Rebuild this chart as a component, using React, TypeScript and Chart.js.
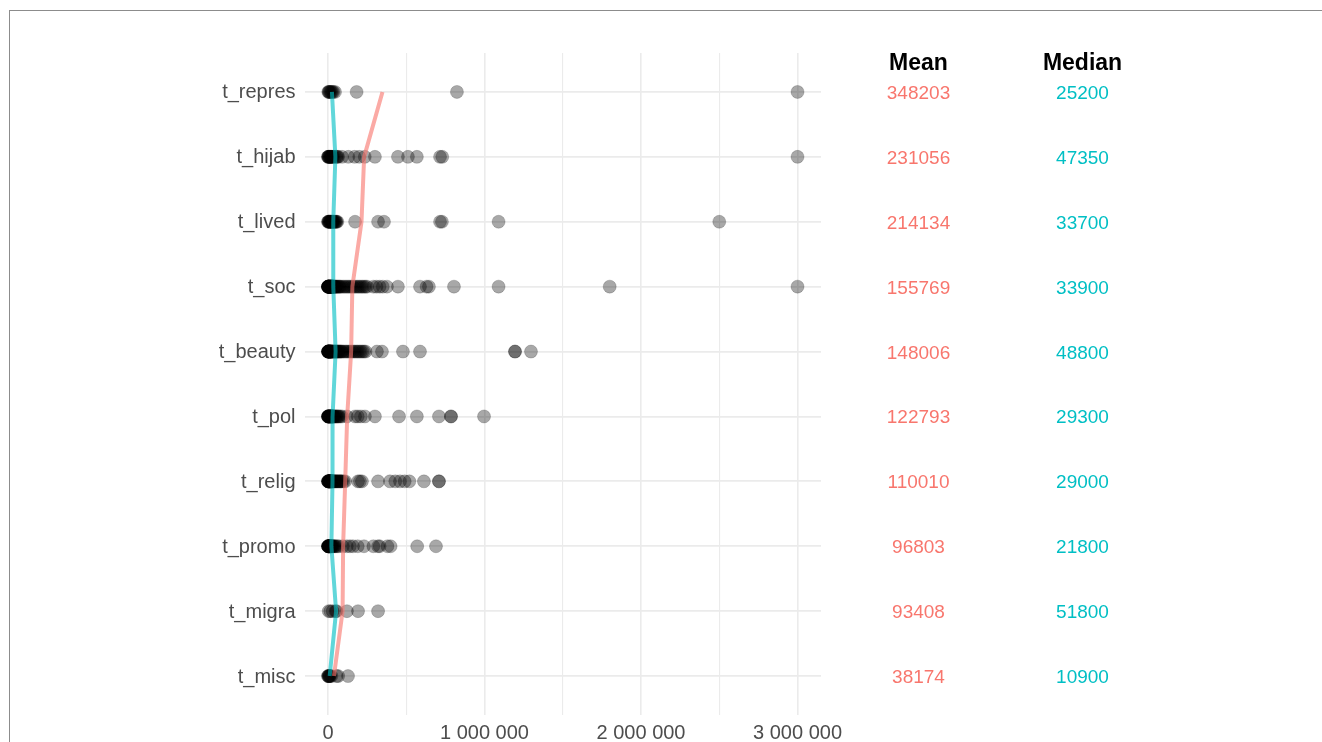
import React, { useEffect, useRef } from "react";
import { Chart, registerables } from "chart.js";

Chart.register(...registerables);

// ---- data ----
const categories = [
  "t_repres", "t_hijab", "t_lived", "t_soc", "t_beauty",
  "t_pol", "t_relig", "t_promo", "t_migra", "t_misc",
];
const tableHeaders = ["Mean", "Median"];
const meanLabels = ["348203", "231056", "214134", "155769", "148006", "122793", "110010", "96803", "93408", "38174"];
const medianLabels = ["25200", "47350", "33700", "33900", "48800", "29300", "29000", "21800", "51800", "10900"];
const meanValues = [348203, 231056, 214134, 155769, 148006, 122793, 110010, 96803, 93408, 38174];
const medianValues = [25200, 47350, 33700, 33900, 48800, 29300, 29000, 21800, 51800, 10900];
const xTickValues = [0, 500000, 1000000, 1500000, 2000000, 2500000, 3000000];

const reprePoints = [2000, 5000, 8000, 12000, 18000, 22000, 28400, 35000, 45000, 183000, 824000, 3000000];
const hijabPoints = [
  0, 1000, 3000, 5000, 8000, 10000, 12000, 15000, 18000, 20000,
  22000, 25000, 28000, 32000, 38000, 47350, 55000, 60000, 65000, 90000,
  130000, 170000, 200000, 235000, 300000, 447000, 511000,
  568000, 716000, 730000, 3000000,
];
const livedPoints = [
  0, 2000, 4000, 6000, 9000, 10000, 12000, 15000, 18000, 20000,
  21000, 25000, 28000, 30000, 31000, 33700, 36000, 40000, 44000, 48000,
  52000, 55000, 60000, 173000, 320000, 358000, 716000, 728000, 1090000, 2500000,
];
const socPoints = [
  0, 1000, 2000, 3000, 5000, 6000, 8000, 10000, 11000, 12000,
  14000, 15000, 17000, 18000, 20000, 22000, 23000, 25000, 27000, 28000,
  30000, 31000, 32000, 33000, 33900, 35000, 37000, 40000, 42000, 45000,
  48000, 50000, 55000, 60000, 65000, 70000, 75000, 80000, 90000, 100000,
  110000, 120000, 130000, 140000, 150000, 160000, 170000, 180000, 190000, 200000,
  210000, 220000, 230000, 240000, 250000, 290000, 310000, 330000, 350000, 377000,
  447000, 588000, 630000, 645000, 805000, 1090000, 1800000, 3000000,
  500, 1500, 2500, 4000, 7000, 9000, 13000, 16000, 19000, 21000,
  24000, 26000, 29000, 500, 1000, 3500, 6500, 12500, 17500, 22500,
];
const beautyPoints = [
  0, 2000, 4000, 6000, 8000, 10000, 13000, 16000, 19000, 22000,
  25000, 28000, 31000, 34000, 37000, 40000, 43000, 46000, 48800, 51000,
  54000, 58000, 62000, 66000, 70000, 75000, 80000, 85000, 90000, 100000,
  110000, 120000, 130000, 140000, 150000, 160000, 170000, 180000, 190000, 200000,
  210000, 220000, 230000, 240000,
  1000, 3000, 5000, 7000, 9000, 12000, 15000, 18000, 21000, 24000,
  500, 1500, 2500, 3500, 11000, 14000,
  313000, 345000, 479000, 588000, 1195000, 1195000, 1297000,
];
const polPoints = [
  0, 500, 1000, 1500, 2000, 3000, 4000, 5000, 6000, 7000,
  8000, 9000, 10000, 12000, 14000, 16000, 18000, 20000, 21000, 22000,
  23000, 24000, 25000, 26000, 27000, 28000, 29300, 31000, 33000, 35000,
  38000, 41000, 45000, 50000, 55000, 60000, 65000, 70000, 80000, 90000,
  121000, 173000, 190000, 210000, 236000, 300000, 454000, 568000, 709000, 786000, 786000, 997000,
];
const religPoints = [
  0, 500, 1000, 2000, 3000, 4000, 5000, 6000, 7000, 8000,
  9000, 10000, 11000, 12000, 13000, 14000, 15000, 16000, 17000, 18000,
  19000, 20000, 21000, 22000, 23000, 24000, 25000, 26000, 28000, 30000,
  32000, 35000, 38000, 42000, 46000, 50000, 55000, 60000, 65000, 70000,
  75000, 80000, 85000, 90000, 100000, 110000,
  192000, 204000, 217000, 320000, 396000, 430000, 460000, 490000, 520000, 613000, 709000, 709000,
];
const promoPoints = [
  0, 500, 1000, 1500, 2000, 3000, 4000, 5000, 6000, 7000,
  8000, 9000, 10000, 11000, 12000, 13000, 14000, 15000, 16000, 17000,
  18000, 19000, 21800, 24000, 27000, 30000, 34000, 38000, 43000, 50000,
  60000, 70000,
  95000, 120000, 140000, 160000, 190000, 230000, 290000, 320000, 330000, 380000, 400000, 570000, 690000,
];
const migraPoints = [5000, 15000, 30000, 48600, 55000, 121000, 192000, 320000];
const miscPoints = [0, 2000, 4000, 7000, 9000, 10900, 14000, 22000, 55000, 65000, 128000];

const rowPoints = [
  reprePoints, hijabPoints, livedPoints, socPoints, beautyPoints,
  polPoints, religPoints, promoPoints, migraPoints, miscPoints,
];

// ---- styling ----
const FONT = '"Liberation Sans", Arial, Helvetica, sans-serif';
const MEAN_COLOR = "#F8766D";
const MEDIAN_COLOR = "#00BFC4";
const CANVAS_W = 1312;
const CANVAS_H = 731;
const MEAN_X = 908.5;
const MEDIAN_X = 1072.5;
const HEADER_BASELINE = 58.5;

function formatThousands(v: number): string {
  return String(Math.round(v)).replace(/\B(?=(\d{3})+(?!\d))/g, " ");
}

const tablePlugin = {
  id: "summaryTable",
  afterDraw(chart: any) {
    const ctx = chart.ctx as CanvasRenderingContext2D;
    const yScale = chart.scales.y;
    ctx.save();
    ctx.textAlign = "center";
    ctx.textBaseline = "alphabetic";
    ctx.font = `bold 23px ${FONT}`;
    ctx.fillStyle = "#000000";
    ctx.fillText(tableHeaders[0], MEAN_X, HEADER_BASELINE);
    ctx.fillText(tableHeaders[1], MEDIAN_X, HEADER_BASELINE);
    ctx.font = `19px ${FONT}`;
    categories.forEach((_, i) => {
      const py = yScale.getPixelForValue(i + 1);
      ctx.fillStyle = MEAN_COLOR;
      ctx.fillText(meanLabels[i], MEAN_X, py + 7);
      ctx.fillStyle = MEDIAN_COLOR;
      ctx.fillText(medianLabels[i], MEDIAN_X, py + 7);
    });
    ctx.restore();
  },
};

export default function App() {
  const canvasRef = useRef<HTMLCanvasElement | null>(null);

  useEffect(() => {
    const canvas = canvasRef.current;
    if (!canvas) return;
    document.body.style.overflow = "hidden";

    const pointData = rowPoints.flatMap((vals, i) => vals.map((v) => ({ x: v, y: i + 1 })));
    const meanData = meanValues.map((v, i) => ({ x: v, y: i + 1 }));
    const medianData = medianValues.map((v, i) => ({ x: v, y: i + 1 }));

    const chart = new Chart(canvas, {
      type: "scatter",
      data: {
        datasets: [
          {
            label: "Mean",
            data: meanData,
            showLine: true,
            borderColor: "rgba(248,118,109,0.62)",
            backgroundColor: "rgba(248,118,109,0.62)",
            borderWidth: 4,
            pointRadius: 0,
            tension: 0,
          },
          {
            label: "Median",
            data: medianData,
            showLine: true,
            borderColor: "rgba(0,191,196,0.62)",
            backgroundColor: "rgba(0,191,196,0.62)",
            borderWidth: 4,
            pointRadius: 0,
            tension: 0,
          },
          {
            label: "values",
            data: pointData,
            backgroundColor: "rgba(0,0,0,0.34)",
            borderColor: "rgba(0,0,0,0.18)",
            borderWidth: 1,
            pointRadius: 6.5,
            pointHoverRadius: 6.5,
          },
        ],
      },
      options: {
        animation: false,
        responsive: false,
        devicePixelRatio: 1,
        events: [],
        layout: { padding: { top: 42, right: 501, bottom: 0, left: 0 } },
        plugins: {
          legend: { display: false },
          tooltip: { enabled: false },
          title: { display: false },
        },
        scales: {
          x: {
            type: "linear",
            min: -150000,
            max: 3150000,
            afterBuildTicks: (scale: any) => {
              scale.ticks = xTickValues.map((v) => ({ value: v }));
            },
            afterFit: (scale: any) => {
              scale.height = 27;
            },
            grid: {
              color: "#EBEBEB",
              lineWidth: (ctx: any) => (ctx.tick && ctx.tick.value % 1000000 === 0 ? 1.6 : 1.1),
              drawTicks: false,
            },
            border: { display: false },
            ticks: {
              autoSkip: false,
              maxRotation: 0,
              padding: 6,
              color: "#4D4D4D",
              font: { family: FONT, size: 20 },
              callback: (v: any) => (Number(v) % 1000000 === 0 ? formatThousands(Number(v)) : ""),
            },
          },
          y: {
            type: "linear",
            reverse: true,
            min: 0.4,
            max: 10.6,
            afterBuildTicks: (scale: any) => {
              scale.ticks = categories.map((_, i) => ({ value: i + 1 }));
            },
            afterFit: (scale: any) => {
              scale.width = 294.5;
            },
            grid: {
              color: "#EBEBEB",
              lineWidth: 1.8,
              drawTicks: false,
            },
            border: { display: false },
            ticks: {
              autoSkip: false,
              padding: 9,
              labelOffset: 1,
              color: "#4D4D4D",
              font: { family: FONT, size: 20 },
              callback: (v: any) => categories[Math.round(Number(v)) - 1] ?? "",
            },
          },
        },
      },
      plugins: [tablePlugin],
    });

    return () => {
      chart.destroy();
    };
  }, []);

  return (
    <div
      style={{
        position: "fixed",
        left: 9,
        top: 10,
        width: CANVAS_W + 1,
        height: CANVAS_H + 1,
        boxSizing: "border-box",
        borderTop: "1px solid #8c8c8c",
        borderLeft: "1px solid #8c8c8c",
        background: "#ffffff",
      }}
    >
      <canvas
        ref={canvasRef}
        width={CANVAS_W}
        height={CANVAS_H}
        style={{ display: "block", width: CANVAS_W, height: CANVAS_H }}
      />
    </div>
  );
}
